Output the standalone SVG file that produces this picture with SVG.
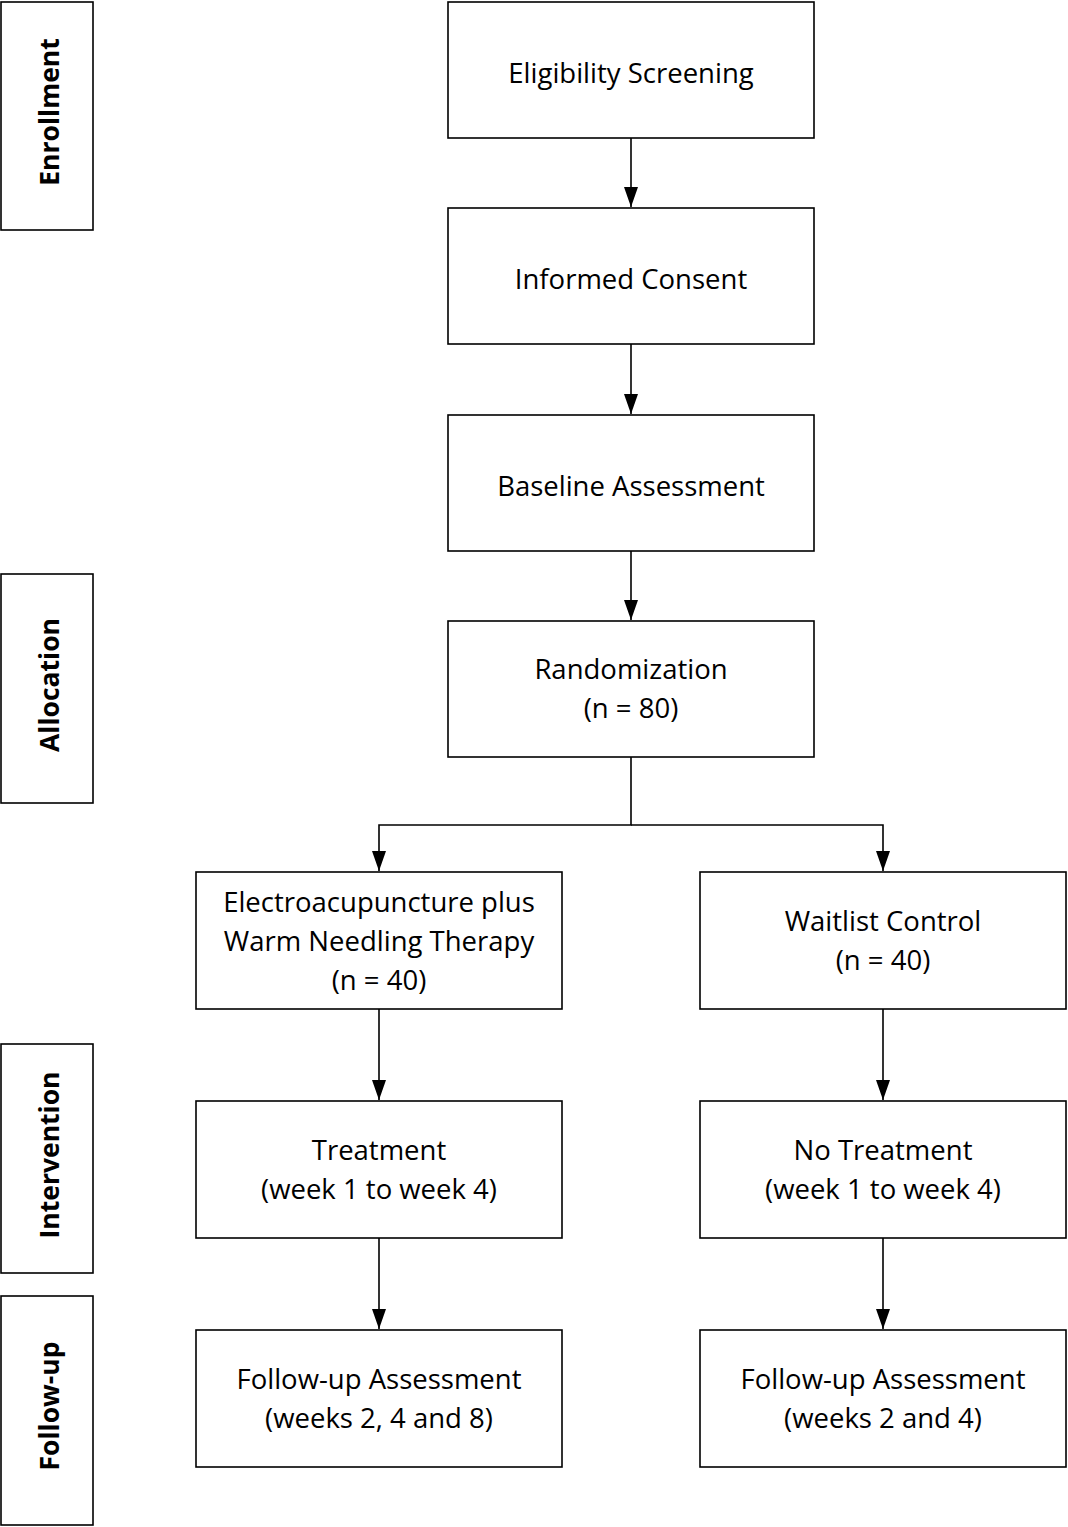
<svg xmlns="http://www.w3.org/2000/svg" width="1068" height="1527" viewBox="0 0 1068 1527">
<defs>
<marker id="arr" markerWidth="20" markerHeight="14" refX="20" refY="7" orient="auto" markerUnits="userSpaceOnUse" viewBox="0 0 20 14">
<path d="M0,0 L20,7 L0,14 Z" fill="#000"/>
</marker>
</defs>
<style>
.box{fill:#fff;stroke:#000;stroke-width:1.6}
.t{font-family:"Open Sans","Noto Sans","Liberation Sans",sans-serif;font-size:27.5px;fill:#000;text-anchor:middle}
.s{font-family:"Open Sans","Noto Sans","Liberation Sans",sans-serif;font-size:26.5px;font-weight:bold;fill:#000;text-anchor:middle}
.c{fill:none;stroke:#000;stroke-width:1.6}
</style>
<rect width="1068" height="1527" fill="#fff"/>
<g id="stage-enrollment"><rect class="box" x="1" y="2" width="92" height="228"/><text class="s" transform="translate(59,112) rotate(-90)">Enrollment</text></g>
<g id="stage-allocation"><rect class="box" x="1" y="574" width="92" height="229"/><text class="s" transform="translate(59,685) rotate(-90)">Allocation</text></g>
<g id="stage-intervention"><rect class="box" x="1" y="1044" width="92" height="229"/><text class="s" transform="translate(59,1155) rotate(-90)">Intervention</text></g>
<g id="stage-followup"><rect class="box" x="1" y="1296" width="92" height="229"/><text class="s" transform="translate(59,1406) rotate(-90)">Follow-up</text></g>
<g id="eligibility"><rect class="box" x="448" y="2" width="366" height="136"/><text class="t" x="631" y="83">Eligibility Screening</text></g>
<g id="consent"><rect class="box" x="448" y="208" width="366" height="136"/><text class="t" x="631" y="289">Informed Consent</text></g>
<g id="baseline"><rect class="box" x="448" y="415" width="366" height="136"/><text class="t" x="631" y="496">Baseline Assessment</text></g>
<g id="randomization"><rect class="box" x="448" y="621" width="366" height="136"/><text class="t" x="631" y="679">Randomization</text><text class="t" x="631" y="718">(n = 80)</text></g>
<g id="ea-group"><rect class="box" x="196" y="872" width="366" height="137"/><text class="t" x="379" y="912">Electroacupuncture plus</text><text class="t" x="379" y="951">Warm Needling Therapy</text><text class="t" x="379" y="990">(n = 40)</text></g>
<g id="waitlist"><rect class="box" x="700" y="872" width="366" height="137"/><text class="t" x="883" y="931">Waitlist Control</text><text class="t" x="883" y="970">(n = 40)</text></g>
<g id="treatment"><rect class="box" x="196" y="1101" width="366" height="137"/><text class="t" x="379" y="1160">Treatment</text><text class="t" x="379" y="1199">(week 1 to week 4)</text></g>
<g id="no-treatment"><rect class="box" x="700" y="1101" width="366" height="137"/><text class="t" x="883" y="1160">No Treatment</text><text class="t" x="883" y="1199">(week 1 to week 4)</text></g>
<g id="followup-ea"><rect class="box" x="196" y="1330" width="366" height="137"/><text class="t" x="379" y="1389">Follow-up Assessment</text><text class="t" x="379" y="1428">(weeks 2, 4 and 8)</text></g>
<g id="followup-wl"><rect class="box" x="700" y="1330" width="366" height="137"/><text class="t" x="883" y="1389">Follow-up Assessment</text><text class="t" x="883" y="1428">(weeks 2 and 4)</text></g>
<g id="connectors">
<line class="c" x1="631" y1="138" x2="631" y2="207" marker-end="url(#arr)"/>
<line class="c" x1="631" y1="344" x2="631" y2="414" marker-end="url(#arr)"/>
<line class="c" x1="631" y1="551" x2="631" y2="620" marker-end="url(#arr)"/>
<polyline class="c" points="631,757 631,825 379,825 379,871" marker-end="url(#arr)"/>
<polyline class="c" points="631,825 883,825 883,871" marker-end="url(#arr)"/>
<line class="c" x1="379" y1="1009" x2="379" y2="1100" marker-end="url(#arr)"/>
<line class="c" x1="883" y1="1009" x2="883" y2="1100" marker-end="url(#arr)"/>
<line class="c" x1="379" y1="1238" x2="379" y2="1329" marker-end="url(#arr)"/>
<line class="c" x1="883" y1="1238" x2="883" y2="1329" marker-end="url(#arr)"/>
</g>
</svg>
